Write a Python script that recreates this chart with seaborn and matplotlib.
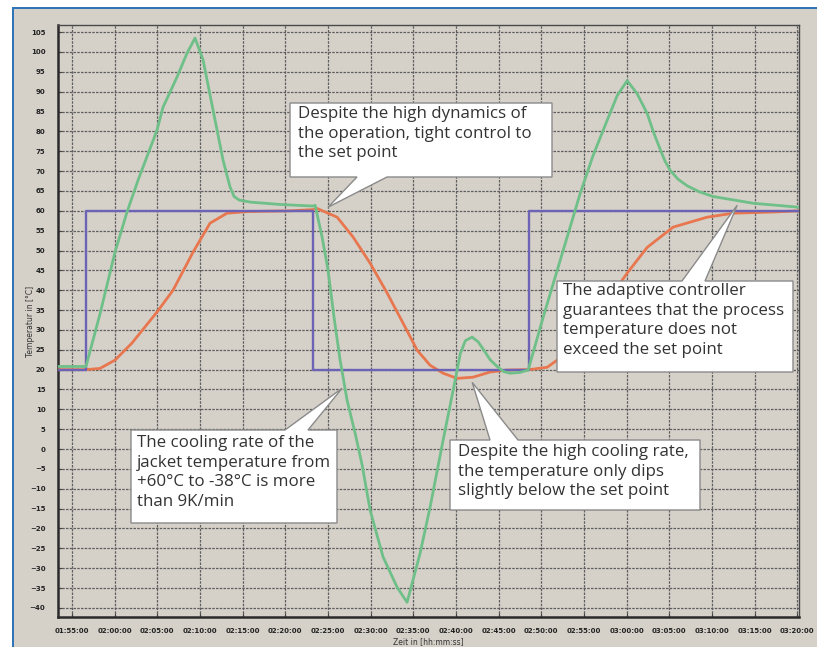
import numpy as np
import matplotlib
matplotlib.use("Agg")
import matplotlib.pyplot as plt
from matplotlib.patches import Rectangle, Polygon
from matplotlib.font_manager import FontProperties
import seaborn as sns

# time in minutes since midnight (115 = 01:55:00)
jacket_t = [113.4, 116.64, 118.28, 120.04, 121.45, 122.74, 124.96, 125.67, 127.31, 128.48,
            129.42, 130.36, 131.53, 132.70, 133.52, 134.0, 134.6, 135.87, 139.38, 143.25,
            143.49, 144.31, 145.01, 145.72, 146.42, 147.24, 148.18, 149.0, 149.94, 151.46,
            153.1, 154.27, 155.8, 156.97, 158.49, 159.9, 160.5, 161.1, 161.89, 162.6,
            163.18, 164.0, 164.82, 165.6, 166.35, 167.5, 168.46, 170.22, 171.86, 173.38,
            174.56, 176.08, 177.72, 178.89, 180.06, 181.23, 182.41, 183.2, 183.93, 184.5,
            185.11, 186.0, 187.1, 188.5, 190.15, 194.84, 200.2]
jacket_temp = [20.8, 20.8, 34.0, 49.6, 59.7, 67.7, 80.3, 86.1, 93.7, 99.7,
               103.5, 98.0, 85.4, 72.8, 66.0, 63.6, 62.7, 62.2, 61.6, 61.2,
               61.4, 53.4, 45.0, 33.0, 22.4, 12.3, 4.0, -4.0, -15.4, -27.2,
               -34.8, -38.6, -26.2, -14.6, 2.2, 17.3, 24.0, 27.3, 28.2, 27.0,
               25.2, 22.5, 20.8, 19.5, 19.1, 19.3, 19.9, 33.2, 45.0, 55.9,
               64.4, 74.0, 82.8, 89.0, 92.8, 89.5, 84.5, 79.5, 75.5, 72.5,
               70.2, 68.0, 66.3, 64.8, 63.6, 61.9, 60.9]

process_t = [113.4, 116.64, 118.28, 120.04, 122.03, 124.96, 126.84, 129.19, 131.18, 133.17,
             135.52, 137.86, 140.56, 143.25, 143.72, 146.07, 147.94, 149.94, 151.93, 153.8,
             155.45, 156.97, 158.49, 160.13, 162.01, 164.0, 166.0, 168.58, 170.69, 171.86,
             174.91, 177.49, 180.06, 182.41, 185.46, 189.44, 192.49, 197.18, 200.2]
process_temp = [20.0, 20.0, 20.3, 22.4, 26.7, 34.5, 40.0, 49.6, 56.9, 59.4,
                59.8, 59.9, 60.0, 60.3, 60.6, 58.4, 53.4, 46.8, 39.3, 31.7,
                24.9, 21.1, 19.1, 17.8, 18.1, 19.4, 19.9, 20.0, 20.6, 22.4,
                29.2, 36.5, 44.3, 50.8, 55.9, 58.4, 59.4, 59.7, 60.0]

setpoint_t = [113.4, 116.64, 143.25, 168.58, 200.2]
setpoint_temp = [20, 60, 20, 60, 60]

tick_pos = list(range(115, 201, 5))
tick_labels = ["01:55:00", "02:00:00", "02:05:00", "02:10:00", "02:15:00", "02:20:00",
               "02:25:00", "02:30:00", "02:35:00", "02:40:00", "02:45:00", "02:50:00",
               "02:55:00", "03:00:00", "03:05:00", "03:10:00", "03:15:00", "03:20:00"]
y_ticks = list(range(-40, 106, 5))

note_texts = [
    "Despite the high dynamics of\nthe operation, tight control to\nthe set point",
    "The adaptive controller\nguarantees that the process\ntemperature does not\nexceed the set point",
    "The cooling rate of the\njacket temperature from\n+60°C to -38°C is more\nthan 9K/min",
    "Despite the high cooling rate,\nthe temperature only dips\nslightly below the set point",
]
note_tips = [(145.0, 60.9), (192.96, 61.4), (146.65, 15.3), (161.9, 16.8)]

# callout layout in image pixels: box (left, top, right, bottom), tail base, tail side, text origin
note_boxes = [(290, 103, 552, 177), (557, 281, 793, 372), (131, 430, 337, 523), (450, 440, 700, 510)]
note_bases = [(357, 387), (682, 705), (285, 308), (490, 518)]
note_sides = ["bottom", "top", "top", "top"]
note_text_pos = [(298, 106), (563, 283), (137, 435), (458, 444)]

W, H = 817, 647
bg = "#d5d1c9"
fig = plt.figure(figsize=(W / 100, H / 100), dpi=100)
fig.patch.set_facecolor("white")
fig.add_artist(Rectangle((13 / W, -0.01), 1.0, 1 - 8 / H + 0.01, transform=fig.transFigure,
                         facecolor=bg, edgecolor="#2a73b8", lw=1.4, zorder=0))

ax = fig.add_axes([58 / W, 1 - 617 / H, (799 - 58) / W, (617 - 25) / H])
ax.set_facecolor(bg)

sns.lineplot(x=process_t, y=process_temp, ax=ax, color="#e8764e", lw=2.0,
             estimator=None, sort=False, zorder=3)
sns.lineplot(x=setpoint_t, y=setpoint_temp, ax=ax, color="#6c63b6", lw=1.7,
             estimator=None, sort=False, drawstyle="steps-post", zorder=4)
sns.lineplot(x=jacket_t, y=jacket_temp, ax=ax, color="#6fbf88", lw=2.0,
             estimator=None, sort=False, zorder=5)

ax.set_xlim(113.36, 200.2)
ax.set_ylim(-42.3, 106.8)
ax.set_xticks(tick_pos, tick_labels)
ax.set_yticks(y_ticks)
ax.grid(True, color="#5e5e5e", linestyle=(0, (2, 1)), lw=0.9, zorder=1)
ax.set_axisbelow(True)

tick_fp = FontProperties(family="Liberation Sans Narrow", size=5, weight="bold")
for lab in ax.get_xticklabels() + ax.get_yticklabels():
    lab.set_fontproperties(tick_fp)
    lab.set_color("#222222")
ax.tick_params(axis="both", direction="in", length=3, color="#444444")
ax.tick_params(axis="y", pad=9)
ax.tick_params(axis="x", pad=8)

for side in ["left", "bottom"]:
    ax.spines[side].set_linewidth(1.8)
    ax.spines[side].set_color("#2a2a2a")
for side in ["top", "right"]:
    ax.spines[side].set_linewidth(1.0)
    ax.spines[side].set_color("#4a4a4a")

ax.set_ylabel("Temperatur in [°C]", family="Liberation Sans Narrow", fontsize=5.5,
              color="#333333", labelpad=-4)
ax.set_xlabel("Zeit in [hh:mm:ss]", family="Liberation Sans Narrow", fontsize=5.5,
              color="#333333", labelpad=2)


def fpx(x, y):
    return (x / W, 1 - y / H)


for text, tip, box, base, side, tpos in zip(note_texts, note_tips, note_boxes,
                                            note_bases, note_sides, note_text_pos):
    L, T, R, B = box
    tx, ty = ax.transData.transform(tip)
    tip_f = (tx / W, ty / H)
    if side == "bottom":
        verts = [fpx(L, T), fpx(R, T), fpx(R, B), fpx(base[1], B), tip_f,
                 fpx(base[0], B), fpx(L, B)]
    else:
        verts = [fpx(L, T), fpx(base[0], T), tip_f, fpx(base[1], T), fpx(R, T),
                 fpx(R, B), fpx(L, B)]
    fig.add_artist(Polygon(verts, closed=True, transform=fig.transFigure, facecolor="white",
                           edgecolor="#8a8a8a", lw=1.0, joinstyle="miter", zorder=2))
    fig.text(tpos[0] / W, 1 - tpos[1] / H, text, ha="left", va="top", fontsize=12.2,
             family="Open Sans", color="#333333", linespacing=1.3, zorder=3)

fig.savefig("out.png", dpi=100, facecolor=fig.get_facecolor())
